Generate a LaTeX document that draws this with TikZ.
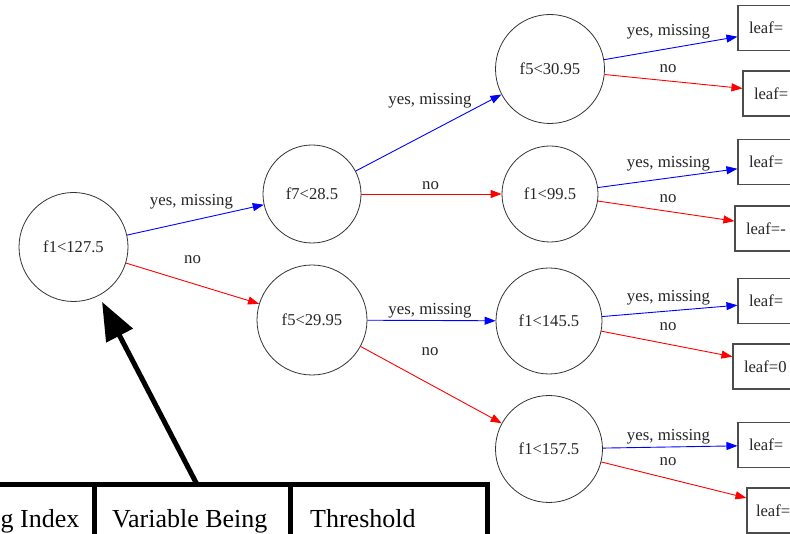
\documentclass[tikz,border=0pt]{standalone}
\usepackage{fontspec}
\setmainfont{Liberation Serif}
\usetikzlibrary{arrows.meta}
\begin{document}
\begin{tikzpicture}[x=1pt,y=-1pt,
  splitnode/.style={circle, draw=black!80, line width=0.8pt, inner sep=0pt,
    font=\fontsize{16.6}{19}\selectfont, text=black!85},
  leafbox/.style={rectangle, draw=black!70, line width=1.1pt, minimum height=45pt,
    text width=78pt, inner xsep=11pt, inner ysep=0pt, align=left,
    font=\fontsize{16.6}{19}\selectfont, text=black!85},
  yesedge/.style={draw=blue, line width=0.9pt, -{Triangle[length=11pt,width=8pt,fill=blue]}},
  noedge/.style={draw=red, line width=0.9pt, -{Triangle[length=11pt,width=8pt,fill=red]}},
  elabel/.style={font=\fontsize{16.8}{19}\selectfont, text=black!85, inner sep=0pt},
  cellline/.style={line width=5pt, line join=miter},
  celltext/.style={font=\fontsize{26}{30}\selectfont, inner sep=0pt},
  pointer/.style={line width=5pt, -{Triangle[length=38pt,width=29pt]}, shorten >=7pt}
]
\useasboundingbox (0,0) rectangle (790,534);
\fill[white] (0,0) rectangle (790,534);
\clip (0,0) rectangle (790,534);

% split nodes
\node[splitnode, minimum size=109pt] (n0) at (73.5,247) {f1<127.5};
\node[splitnode, minimum size=98pt]  (n1) at (312,194)  {f7<28.5};
\node[splitnode, minimum size=110pt] (n2) at (312,320)  {f5<29.95};
\node[splitnode, minimum size=109pt] (n3) at (550,69)   {f5<30.95};
\node[splitnode, minimum size=96pt]  (n4) at (550,194)  {f1<99.5};
\node[splitnode, minimum size=106pt] (n5) at (549,321)  {f1<145.5};
\node[splitnode, minimum size=107pt] (n6) at (549,449)  {f1<157.5};

% leaves
\node[leafbox] (l1) at (788,28)    {leaf=};
\node[leafbox] (l2) at (793,93.5)  {leaf=};
\node[leafbox] (l3) at (788,162)   {leaf=};
\node[leafbox] (l4) at (785,228.5) {leaf=-};
\node[leafbox] (l5) at (788,301)   {leaf=};
\node[leafbox] (l6) at (783,366.5) {leaf=0};
\node[leafbox] (l7) at (788,445)   {leaf=};
\node[leafbox, text width=82pt, inner xsep=9pt] (l8) at (797,510.5) {leaf=};

% branches
\draw[yesedge] (n0) -- (n1);
\draw[noedge]  (n0) -- (n2);
\draw[yesedge] (n1) -- (n3);
\draw[noedge]  (n1) -- (n4);
\draw[yesedge] (n2) -- (n5);
\draw[noedge]  (n2) -- (n6);
\draw[yesedge] (n3) -- (l1);
\draw[noedge]  (n3) -- (l2);
\draw[yesedge] (n4) -- (l3);
\draw[noedge]  (n4) -- (l4);
\draw[yesedge] (n5) -- (l5);
\draw[noedge]  (n5) -- (l6);
\draw[yesedge] (n6) -- (l7);
\draw[noedge]  (n6) -- (l8);

% branch labels
\node[elabel] (t01) at (191.5,202) {yes, missing};
\node[elabel] (t02) at (192.5,260) {no};
\node[elabel] (t13) at (430,101)   {yes, missing};
\node[elabel] (t14) at (430.5,185.5) {no};
\node[elabel] (t25) at (430,311)   {yes, missing};
\node[elabel] (t26) at (430,352)   {no};
\node[elabel] (t31) at (668.5,31.5) {yes, missing};
\node[elabel] (t32) at (668,68.5)  {no};
\node[elabel] (t43) at (668.5,164) {yes, missing};
\node[elabel] (t44) at (668,198.5) {no};
\node[elabel] (t55) at (668.5,297.5) {yes, missing};
\node[elabel] (t56) at (668,327)   {no};
\node[elabel] (t67) at (668.5,437) {yes, missing};
\node[elabel] (t68) at (668,462)   {no};

% legend table along the bottom
\draw[cellline] (-30,570) |- (487.5,484.5) -- (487.5,570);
\draw[cellline] (94,484.5) -- (94,570);
\draw[cellline] (290,484.5) -- (290,570);
\node[celltext, anchor=base west] (c1) at (0.5,527) {g Index};
\node[celltext, anchor=base west] (c2) at (112,527) {Variable Being};
\node[celltext, anchor=base west] (c3) at (310,527) {Threshold};

% pointer from the table to the root split
\coordinate (ptr) at (197,484.5);
\draw[pointer] (ptr) -- (n0);
\end{tikzpicture}
\end{document}
